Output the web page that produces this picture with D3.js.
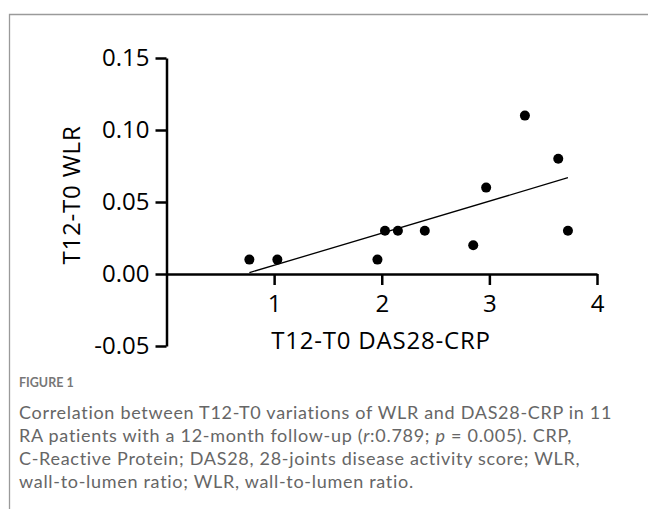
<!DOCTYPE html>
<html><head><meta charset="utf-8">
<script src="https://cdn.jsdelivr.net/npm/d3@7"></script>
<style>
body{margin:0;background:#fff;}
svg{display:block;}
</style></head>
<body>
<svg id="c" width="648" height="509"></svg>
<script>
// Data
const xValues = [0.77, 1.03, 1.96, 2.03, 2.15, 2.40, 2.85, 2.97, 3.33, 3.64, 3.73];
const yValues = [0.01, 0.01, 0.01, 0.03, 0.03, 0.03, 0.02, 0.06, 0.11, 0.08, 0.03];
const xTicks = [1, 2, 3, 4];
const yTicks = [-0.05, 0, 0.05, 0.10, 0.15];
const yTickLabels = ["-0.05", "0.00", "0.05", "0.10", "0.15"];
const xTitle = "T12-T0 DAS28-CRP";
const yTitle = "T12-T0 WLR";
const figLabel = "FIGURE 1";
const captionLines = [
  [{t:"Correlation between T12-T0 variations of WLR and DAS28-CRP in 11"}],
  [{t:"RA patients with a 12-month follow-up ("},{t:"r",i:true},{t:":0.789; "},{t:"p",i:true},{t:" = 0.005). CRP,"}],
  [{t:"C-Reactive Protein; DAS28, 28-joints disease activity score; WLR,"}],
  [{t:"wall-to-lumen ratio; WLR, wall-to-lumen ratio."}]
];

const svg = d3.select("#c");
const font = "'Open Sans', 'Noto Sans', sans-serif";

// frame
svg.append("path").attr("d","M9.5,509 V14.5 H648").attr("fill","none").attr("stroke","#9a9a9a").attr("stroke-width",1.3);

const x = d3.scaleLinear().domain([0,4]).range([166.5,597]);
const y = d3.scaleLinear().domain([-0.05,0.15]).range([346,58]);
const axisColor = "#000";

// Y axis
const yAxis = d3.axisLeft(y).tickValues(yTicks).tickFormat((d,i)=>yTickLabels[i]).tickSize(11).tickPadding(6).tickSizeOuter(0);
const gy = svg.append("g").attr("transform",`translate(${x(0)},0)`).call(yAxis);
gy.select(".domain").attr("stroke",axisColor).attr("stroke-width",2.5);
gy.selectAll(".tick line").attr("stroke",axisColor).attr("stroke-width",2.5);
gy.selectAll(".tick text").attr("font-family",font).attr("font-size",24).attr("fill","#000");

// X axis at y=0
const xAxis = d3.axisBottom(x).tickValues(xTicks).tickFormat(d3.format("d")).tickSize(11).tickPadding(10).tickSizeOuter(0);
const gx = svg.append("g").attr("transform",`translate(0,${y(0)})`).call(xAxis);
gx.select(".domain").attr("stroke",axisColor).attr("stroke-width",2.5);
gx.selectAll(".tick line").attr("stroke",axisColor).attr("stroke-width",2.5);
gx.selectAll(".tick text").attr("font-family",font).attr("font-size",24).attr("fill","#000");

// regression
const n = xValues.length;
const mx = d3.mean(xValues), my = d3.mean(yValues);
let sxy=0, sxx=0;
for(let i=0;i<n;i++){ sxy += (xValues[i]-mx)*(yValues[i]-my); sxx += (xValues[i]-mx)**2; }
const slope = sxy/sxx, icpt = my - slope*mx;
const x0 = d3.min(xValues), x1 = d3.max(xValues);
svg.append("line")
  .attr("x1",x(x0)).attr("y1",y(icpt+slope*x0))
  .attr("x2",x(x1)).attr("y2",y(icpt+slope*x1))
  .attr("stroke","#000").attr("stroke-width",1.3);

// points
svg.append("g").selectAll("circle").data(xValues).join("circle")
  .attr("cx",d=>x(d)).attr("cy",(d,i)=>y(yValues[i])).attr("r",5).attr("fill","#000");

// titles
svg.append("text").attr("x",381).attr("y",349).attr("text-anchor","middle")
  .attr("font-family",font).attr("font-size",24).attr("letter-spacing",0.8).text(xTitle);
svg.append("text").attr("transform","translate(80,195) rotate(-90)").attr("text-anchor","middle")
  .attr("font-family",font).attr("font-size",24).attr("letter-spacing",0.8).text(yTitle);

// caption
svg.append("text").attr("x",19).attr("y",387).attr("font-family","Lato, 'Open Sans', sans-serif")
  .attr("font-size",12.5).attr("font-weight",700).attr("fill","#777").text(figLabel);
const cap = svg.append("g").attr("font-family","Lato, 'Open Sans', sans-serif").attr("font-size",18).attr("letter-spacing",0.7).attr("fill","#666");
captionLines.forEach((segs,li)=>{
  const t = cap.append("text").attr("x",19).attr("y",419+li*23);
  segs.forEach(s=>{ const sp=t.append("tspan").text(s.t); if(s.i) sp.attr("font-style","italic"); });
});
</script>
</body></html>
